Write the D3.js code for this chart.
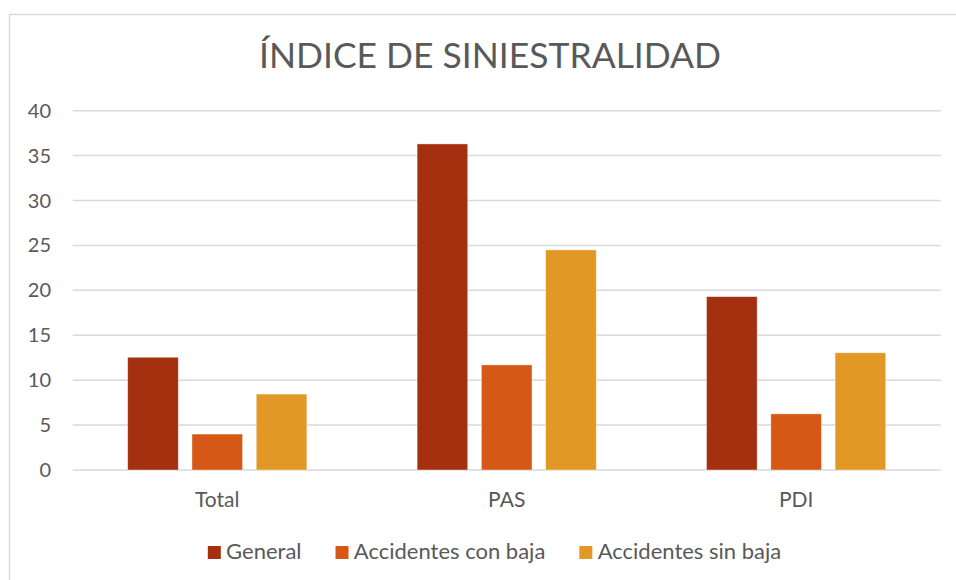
<!DOCTYPE html>
<html>
<head>
<meta charset="utf-8">
<script src="https://cdn.jsdelivr.net/npm/d3@7"></script>
<style>
  body { margin: 0; background: #fff; }
  svg { display: block; font-family: Lato, "Open Sans", sans-serif; }
</style>
</head>
<body>
<div id="chart"></div>
<script>
// Data
const categories = ["Total", "PAS", "PDI"];
const series = ["General", "Accidentes con baja", "Accidentes sin baja"];
const general = [12.55, 36.3, 19.3];
const conBaja = [4.0, 11.7, 6.25];
const sinBaja = [8.45, 24.5, 13.05];
const yTicks = [0, 5, 10, 15, 20, 25, 30, 35, 40];
const colors = ["#A5300F", "#D55816", "#E19825"];

const values = [general, conBaja, sinBaja];

const width = 956, height = 580;
const margin = { left: 72.7, right: 15.3, top: 110.7, bottom: 110 };

const svg = d3.select("#chart")
  .append("svg")
  .attr("width", width)
  .attr("height", height);

// chart border (only top and left edges are visible)
svg.append("rect")
  .attr("x", 9.5).attr("y", 14.5)
  .attr("width", 1000).attr("height", 600)
  .attr("fill", "none")
  .attr("stroke", "#D9D9D9")
  .attr("stroke-width", 1.5);

// Title, stretched to the width of the original
svg.append("text")
  .attr("x", 490)
  .attr("y", 68.3)
  .attr("text-anchor", "middle")
  .attr("fill", "#595959")
  .style("font-size", "34px")
  .attr("textLength", 462)
  .attr("lengthAdjust", "spacingAndGlyphs")
  .text("ÍNDICE DE SINIESTRALIDAD");

// Scales
const x0 = d3.scaleBand()
  .domain(categories)
  .range([margin.left, width - margin.right])
  .paddingInner(0.381)
  .paddingOuter(0.19);

const x1 = d3.scaleBand()
  .domain(series)
  .range([0, x0.bandwidth()])
  .paddingInner(0.213);

const y = d3.scaleLinear()
  .domain([0, 40])
  .range([height - margin.bottom, margin.top]);

// Gridlines
svg.append("g")
  .selectAll("line")
  .data(yTicks)
  .enter()
  .append("line")
  .attr("x1", margin.left)
  .attr("x2", width - margin.right)
  .attr("y1", d => y(d))
  .attr("y2", d => y(d))
  .attr("stroke", "#D9D9D9")
  .attr("stroke-width", 1.5);

// Y axis labels
svg.append("g")
  .selectAll("text")
  .data(yTicks)
  .enter()
  .append("text")
  .attr("x", 51)
  .attr("y", d => y(d) + 7)
  .attr("text-anchor", "end")
  .attr("fill", "#595959")
  .style("font-size", "20px")
  .text(d => d);

// Bars
const groups = svg.append("g")
  .selectAll("g")
  .data(categories)
  .enter()
  .append("g")
  .attr("transform", d => `translate(${x0(d)},0)`);

groups.selectAll("rect")
  .data((c, ci) => series.map((s, si) => ({ s: s, v: values[si][ci], i: si })))
  .enter()
  .append("rect")
  .attr("x", d => x1(d.s))
  .attr("y", d => y(d.v))
  .attr("width", x1.bandwidth())
  .attr("height", d => y(0) - y(d.v))
  .attr("fill", d => colors[d.i])
  .attr("stroke", "#fff")
  .attr("stroke-opacity", 0.5)
  .attr("stroke-width", 0.75);

// X axis labels
svg.append("g")
  .selectAll("text")
  .data(categories)
  .enter()
  .append("text")
  .attr("x", d => x0(d) + x0.bandwidth() / 2)
  .attr("y", 507.3)
  .attr("text-anchor", "middle")
  .attr("fill", "#595959")
  .style("font-size", "21px")
  .text(d => d);

// Legend
const legend = svg.append("g");
let lx = 0;
series.forEach((s, i) => {
  const item = legend.append("g").attr("transform", `translate(${lx},0)`);
  item.append("rect")
    .attr("x", 0).attr("y", 546)
    .attr("width", 13).attr("height", 13)
    .attr("fill", colors[i]);
  const t = item.append("text")
    .attr("x", 18.3)
    .attr("y", 559)
    .attr("fill", "#595959")
    .style("font-size", "22px")
    .text(s);
  lx += 18.3 + t.node().getComputedTextLength() + 34;
});
const legendWidth = lx - 34;
legend.attr("transform", `translate(${494.5 - legendWidth / 2},0)`);
</script>
</body>
</html>
